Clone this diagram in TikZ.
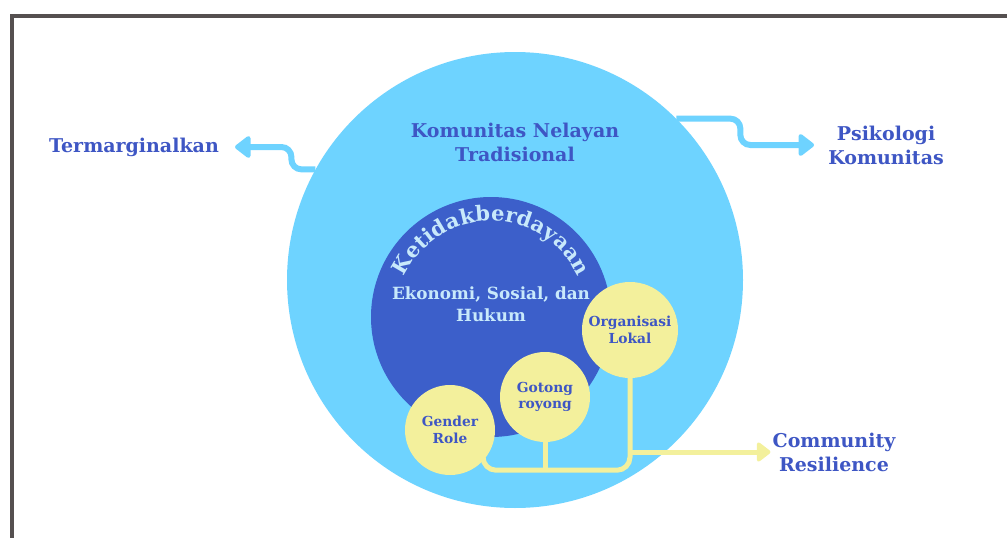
\documentclass[tikz,border=0pt]{standalone}
\usepackage{fontspec}
\setmainfont{DejaVu Serif}
\usetikzlibrary{arrows.meta,decorations.text,calc}
\definecolor{skyc}{HTML}{6ED3FF}
\definecolor{deepc}{HTML}{3C5FCA}
\definecolor{yelc}{HTML}{F3F09C}
\definecolor{inkc}{HTML}{3E56C4}
\definecolor{palec}{HTML}{C8E9FB}
\definecolor{framec}{HTML}{555050}
\pgfdeclarelayer{bg}
\pgfdeclarelayer{mid}
\pgfsetlayers{bg,mid,main}
\begin{document}
\begin{tikzpicture}[x=1pt,y=1pt,
  lbl/.style={font=\fontsize{19}{24}\selectfont\bfseries, text=inkc, align=center, inner sep=2pt},
  ylw/.style={circle, fill=yelc, minimum size=#1, inner sep=0pt, font=\fontsize{13.8}{16.5}\selectfont\bfseries, text=inkc, align=center},
  disc/.style={circle, fill=#1, inner sep=0pt},
  blink/.style={draw=skyc, line width=6pt, rounded corners=10pt, -{Triangle[length=17pt,width=25pt,round]}},
  ylink/.style={draw=yelc, line width=5pt, rounded corners=13pt},
]
\useasboundingbox (0,0) rectangle (1007,-538);
\draw[framec, line width=3.5pt] (12,-545) -- (12,-16) -- (1015,-16);

\begin{pgfonlayer}{bg}
\node[disc=skyc, minimum size=456pt] (big) at (515,-280) {};
\node[disc=deepc, minimum size=240pt] (inner) at (491,-317) {};
\end{pgfonlayer}

% arched title
\path[decorate, decoration={text along path, text align={fit to path},
  text={|\fontsize{21}{21}\selectfont\bfseries\color{palec}|Ketidakberdayaan}}]
  ([shift={(155:96)}]inner.center) arc[start angle=155, end angle=25, radius=96];

\node[lbl] (kom) at (515,-142) {Komunitas Nelayan\\Tradisional};
\node[font=\fontsize{16.8}{22}\selectfont\bfseries, text=palec, align=center] (eko) at (491,-304) {Ekonomi, Sosial, dan\\Hukum};

\node[lbl] (term) at (134,-147) {Termarginalkan};
\node[lbl] (psi) at (886,-145) {Psikologi\\Komunitas};
\node[lbl] (cr) at (834,-452) {Community\\Resilience};

\node[ylw=90pt] (gen) at (450,-430) {Gender\\Role};
\node[ylw=90pt] (got) at (545,-397) {Gotong\\royong};
\node[ylw=96pt] (org) at (630,-330) {Organisasi\\Lokal};

\begin{pgfonlayer}{mid}
\draw[ylink] ([xshift=33pt]gen.center) |- ([yshift=-92pt]org.south) -- (org.south);
\draw[ylink] (got.south) -- ++(0,-30);
\draw[ylink, -{Triangle[length=15pt,width=22pt,round]}] (org.south |- cr.west) -- (cr.west);
\end{pgfonlayer}

\draw[blink] (big.151) -- ++(-24,0) |- ([xshift=14pt]term.east);
\draw[blink] (big.45) -- ++(64,0) |- ([xshift=-12pt]psi.west);
\end{tikzpicture}
\end{document}
